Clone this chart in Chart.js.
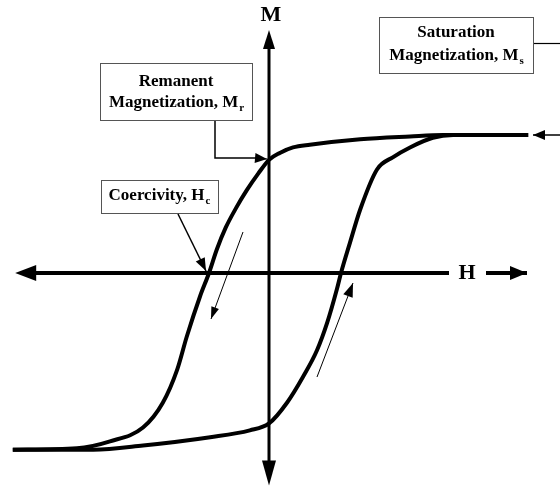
<!DOCTYPE html>
<html lang="en">
<head>
    <meta charset="UTF-8">
    <title>Hysteresis loop</title>
    <script src="https://cdn.jsdelivr.net/npm/chart.js"></script>
    <style>
        body { margin: 0; background: #fff; }
        #graph { width: 560px; height: 486px; position: relative; }
    </style>
</head>
<body>
    <div id="graph">
        <canvas id="myChart"></canvas>
    </div>

<script>
    // H in units of the coercivity (Hc = 1), M in units of the saturation (Ms = 1)
    // descending branch, from positive saturation to negative saturation
    const upperH = [4.32, 2.90, 2.35, 1.52, 0.68, 0.40, 0.18, 0.00, -0.18, -0.37, -0.55, -0.72, -0.87, -1.00, -1.15, -1.37, -1.53, -1.77, -2.10, -2.65, -3.20, -4.27];
    const upperM = [1.00, 1.00, 0.99, 0.97, 0.93, 0.91, 0.87, 0.82, 0.72, 0.60, 0.47, 0.33, 0.17, 0.00, -0.17, -0.46, -0.70, -0.94, -1.12, -1.22, -1.27, -1.28];
    // ascending branch, from negative saturation back up
    const lowerH = [-4.27, -2.93, -2.10, -0.98, -0.32, 0.00, 0.30, 0.57, 0.80, 0.97, 1.13, 1.20, 1.35, 1.52, 1.80, 2.07, 2.35, 2.73, 3.07, 4.32];
    const lowerM = [-1.28, -1.28, -1.25, -1.19, -1.14, -1.09, -0.94, -0.75, -0.56, -0.36, -0.12, 0.00, 0.22, 0.46, 0.75, 0.84, 0.91, 0.98, 1.00, 1.00];

    // axis extents (arrow tips)
    const axisH = [-4.23, 3.00];
    const axisM = [-1.54, 1.76];

    function pts(xs, ys) {
        return xs.map(function (x, i) { return { x: x, y: ys[i] }; });
    }

    function arrowHead(ctx, x1, y1, x2, y2, len, w) {
        const a = Math.atan2(y2 - y1, x2 - x1);
        ctx.beginPath();
        ctx.moveTo(x2, y2);
        ctx.lineTo(x2 - len * Math.cos(a) + w * Math.sin(a), y2 - len * Math.sin(a) - w * Math.cos(a));
        ctx.lineTo(x2 - len * Math.cos(a) - w * Math.sin(a), y2 - len * Math.sin(a) + w * Math.cos(a));
        ctx.closePath();
        ctx.fill();
    }

    function arrow(ctx, x1, y1, x2, y2, lw, len, w) {
        ctx.lineWidth = lw;
        ctx.beginPath();
        ctx.moveTo(x1, y1);
        ctx.lineTo(x2, y2);
        ctx.stroke();
        arrowHead(ctx, x1, y1, x2, y2, len, w);
    }

    function label(ctx, x, y, main, sub) {
        ctx.font = 'bold 17px "Liberation Serif"';
        const w1 = ctx.measureText(main).width;
        ctx.font = 'bold 11px "Liberation Serif"';
        const w2 = sub ? ctx.measureText(sub).width : 0;
        const x0 = x - (w1 + w2) / 2;
        ctx.textAlign = 'left';
        ctx.textBaseline = 'middle';
        ctx.font = 'bold 17px "Liberation Serif"';
        ctx.fillText(main, x0, y);
        if (sub) {
            ctx.font = 'bold 11px "Liberation Serif"';
            ctx.fillText(sub, x0 + w1 + 1, y + 5);
        }
    }

    const axesPlugin = {
        id: 'axesPlugin',
        beforeDatasetsDraw(chart) {
            const ctx = chart.ctx;
            const sx = chart.scales.x, sy = chart.scales.y;
            const x0 = sx.getPixelForValue(0), y0 = sy.getPixelForValue(0);
            ctx.save();
            ctx.strokeStyle = '#000';
            ctx.fillStyle = '#000';
            // H axis
            const hl = sx.getPixelForValue(axisH[0]), hr = sx.getPixelForValue(axisH[1]);
            ctx.lineWidth = 4;
            ctx.beginPath();
            ctx.moveTo(hl + 10, y0);
            ctx.lineTo(hr, y0);
            ctx.stroke();
            arrowHead(ctx, hl + 30, y0, hl, y0, 21, 8);
            // M axis
            const mt = sy.getPixelForValue(axisM[1]), mb = sy.getPixelForValue(axisM[0]);
            ctx.lineWidth = 3;
            ctx.beginPath();
            ctx.moveTo(x0, mt + 10);
            ctx.lineTo(x0, mb - 10);
            ctx.stroke();
            arrowHead(ctx, x0, mt + 30, x0, mt, 19, 6);
            arrowHead(ctx, x0, mb - 30, x0, mb, 25, 7);
            ctx.restore();
        },
        afterDatasetsDraw(chart) {
            const ctx = chart.ctx;
            ctx.save();
            ctx.strokeStyle = '#000';
            ctx.fillStyle = '#000';

            // axis letters
            ctx.font = 'bold 22px "Liberation Serif"';
            ctx.textAlign = 'center';
            ctx.textBaseline = 'middle';
            ctx.fillText('M', 271, 15);
            ctx.fillText('H', 467, 273);
            arrow(ctx, 486, 273, 527, 273, 4, 17, 7);

            // boxes
            ctx.lineWidth = 1;
            ctx.strokeStyle = '#555';
            ctx.strokeRect(379.5, 17.5, 154, 56);
            ctx.strokeRect(100.5, 63.5, 152, 57);
            ctx.strokeRect(101.5, 180.5, 117, 33);
            ctx.strokeStyle = '#000';

            label(ctx, 456, 33, 'Saturation');
            label(ctx, 456, 56, 'Magnetization, M', 's');
            label(ctx, 176, 82, 'Remanent');
            label(ctx, 176, 103, 'Magnetization, M', 'r');
            label(ctx, 159, 196, 'Coercivity, H', 'c');

            // callouts
            ctx.lineWidth = 1.2;
            ctx.beginPath();
            ctx.moveTo(534, 43.5);
            ctx.lineTo(560, 43.5);
            ctx.stroke();
            arrow(ctx, 560, 135, 533, 135, 1.5, 12, 5);

            ctx.beginPath();
            ctx.moveTo(215, 121);
            ctx.lineTo(215, 158);
            ctx.lineTo(258, 158);
            ctx.stroke();
            arrow(ctx, 255, 158, 267, 159, 1.2, 12, 5);

            arrow(ctx, 178, 214, 206, 271, 1.5, 13, 5);

            // direction of travel
            arrow(ctx, 243, 232, 211, 319, 1, 12, 4);
            arrow(ctx, 317, 377, 353, 283, 1, 14, 5);

            ctx.restore();
        }
    };

    const ctx = document.getElementById('myChart');

    new Chart(ctx, {
        type: 'line',
        data: {
            datasets: [{
                label: 'descending',
                data: pts(upperH, upperM),
                borderColor: '#000',
                borderWidth: 4,
                pointRadius: 0,
                cubicInterpolationMode: 'monotone',
                fill: false
            },
            {
                label: 'ascending',
                data: pts(lowerH, lowerM),
                borderColor: '#000',
                borderWidth: 4,
                pointRadius: 0,
                cubicInterpolationMode: 'monotone',
                fill: false
            }]
        },
        options: {
            responsive: true,
            maintainAspectRatio: false,
            animation: false,
            layout: { padding: 0 },
            plugins: {
                legend: { display: false },
                tooltip: { enabled: false }
            },
            scales: {
                x: { type: 'linear', display: false, min: -269 / 60, max: 291 / 60 },
                y: { type: 'linear', display: false, min: -213 / 138, max: 273 / 138 }
            }
        },
        plugins: [axesPlugin]
    });
</script>
</body>
</html>
